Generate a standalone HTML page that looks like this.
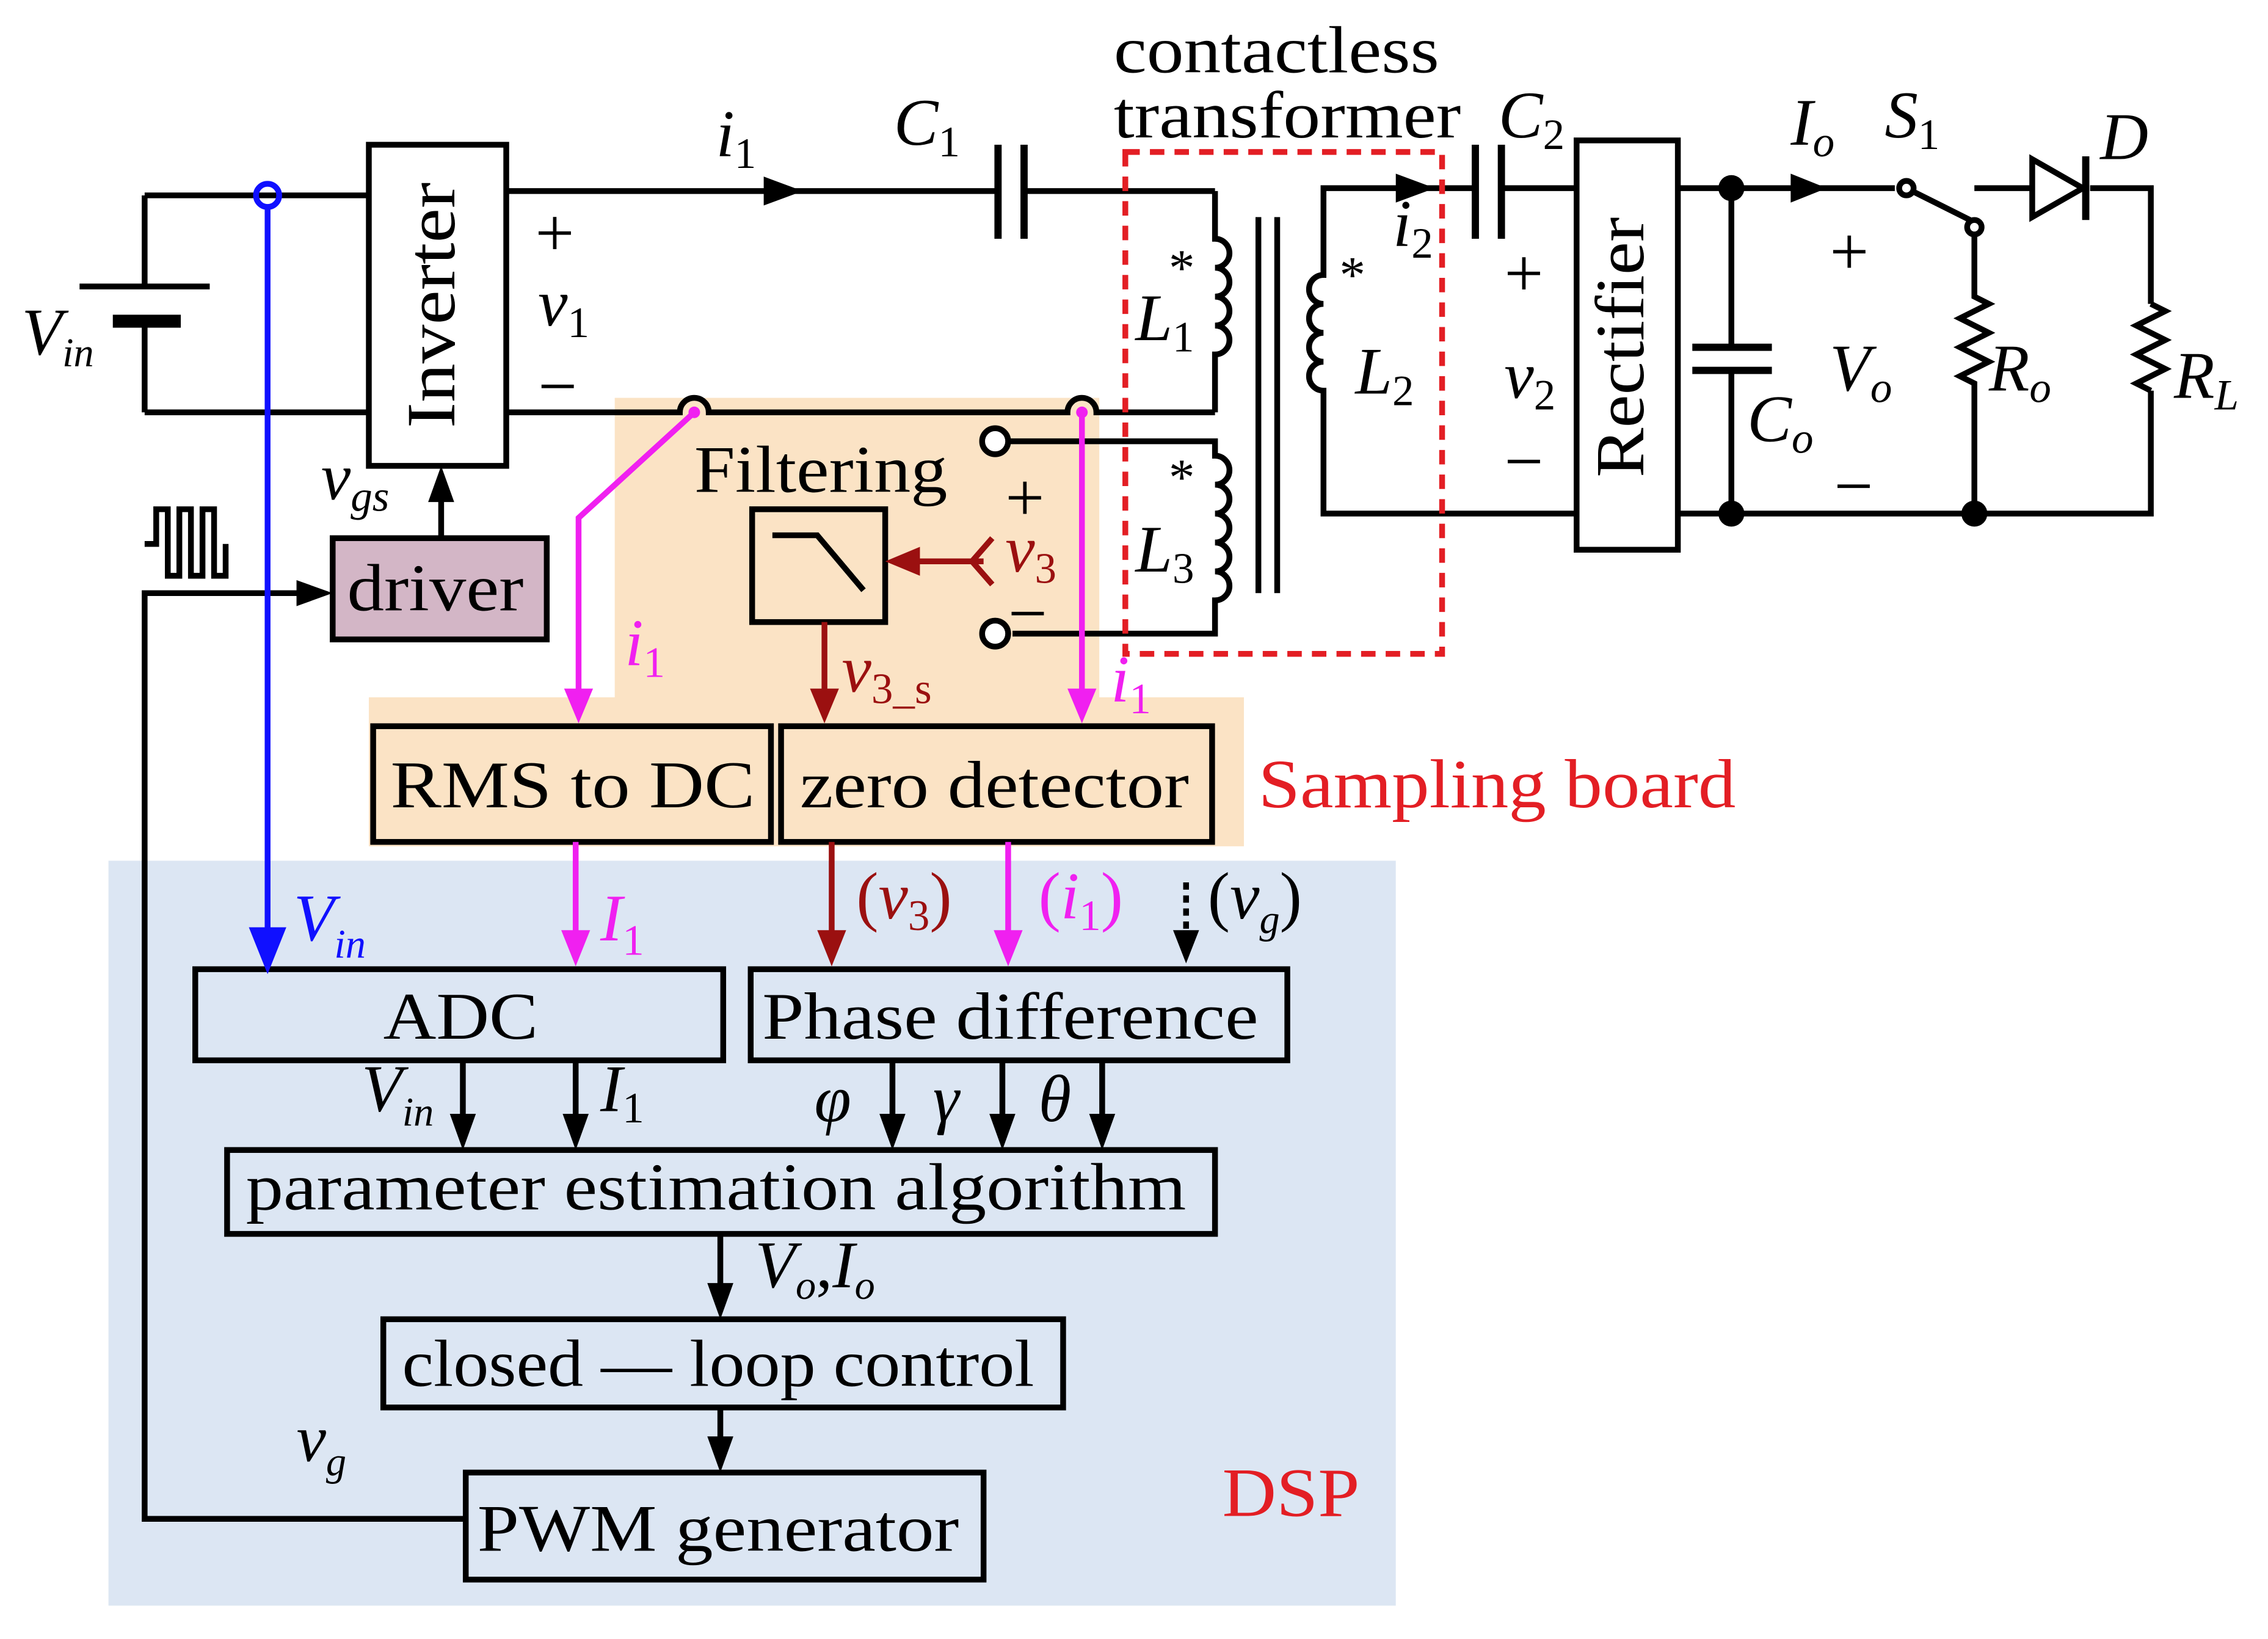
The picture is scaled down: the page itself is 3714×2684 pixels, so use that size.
<!DOCTYPE html>
<html><head><meta charset="utf-8"><style>
html,body{margin:0;padding:0;background:#fff}
svg{display:block}
text{font-family:"Liberation Serif",serif}
</style></head><body>
<svg width="3714" height="2684" viewBox="0 0 1568 1133" xmlns="http://www.w3.org/2000/svg">
<rect width="1568" height="1133" fill="#fff"/>
<rect x="75" y="595" width="890" height="515" fill="#dce6f3"/>
<path d="M425,275 H760 V482 H860 V585 H255 V482 H425 Z" fill="#fbe3c5"/>
<g stroke="#000" stroke-width="4" fill="none">
<path d="M100,135 V198 M100,222 V285"/>
<path d="M55,198 H145" />
<path d="M78,222 H125" stroke-width="9"/>
<path d="M100,135 H255 M100,285 H255"/>
<rect x="255" y="100" width="95" height="222"/>
<path d="M350,132 H690 M708,132 H840"/>
<path d="M690,100 V165 M708,100 V165" stroke-width="5"/>
<path d="M350,285 H470 A10,10 0 0 1 490,285 H738 A10,10 0 0 1 758,285 H840"/>
<path d="M840,132 V165 a10,10 0 0 1 0,20 a10,10 0 0 1 0,20 a10,10 0 0 1 0,20 a10,10 0 0 1 0,20 V285"/>
<path d="M688,305 H840 V315 a10,10 0 0 1 0,20 a10,10 0 0 1 0,20 a10,10 0 0 1 0,20 a10,10 0 0 1 0,20 a10,10 0 0 1 0,20 V438 H700"/>
<circle cx="688" cy="305" r="9" fill="#fff"/>
<circle cx="688" cy="438" r="9" fill="#fff"/>
<path d="M870,150 V410 M883,150 V410"/>
<path d="M1020,130 H915 V190 a10,10 0 0 0 0,20 a10,10 0 0 0 0,20 a10,10 0 0 0 0,20 a10,10 0 0 0 0,20 V355 H1090"/>
<path d="M1038,130 H1090"/>
<path d="M1020,100 V165 M1038,100 V165" stroke-width="5"/>
<rect x="1090" y="97" width="70" height="283"/>
<path d="M1160,130 H1310 M1160,355 H1487 V270 M1487,210 V130 H1445"/>
<path d="M1197,130 V240 M1197,256 V355"/>
<path d="M1170,240 H1225 M1170,256 H1225" stroke-width="5"/>
<path d="M1324,133 L1362,152"/>
<circle cx="1318" cy="130" r="5" fill="#fff"/>
<circle cx="1365" cy="157" r="5" fill="#fff"/>
<path d="M1365,162 V205 l10,5 l-20,10 l20,10 l-20,10 l20,10 l-20,10 l10,5 V355"/>
<path d="M1487,210 l10,5 l-20,10 l20,10 l-20,10 l20,10 l-20,10 l10,5"/>
<path d="M1365,130 H1405"/>
<path d="M1405,110 L1440,130 L1405,150 Z"/>
<path d="M1442,108 V152" stroke-width="5"/>
<rect x="230" y="372" width="148" height="70" fill="#d3b6c6"/>
<path d="M305,372 V335"/>
<path d="M100,376 H108 V352 H116 V398 H124 V352 H132 V398 H140 V352 H148 V398 H156 V376" stroke-width="4"/>
<path d="M322,1050 H100 V410 H215"/>
<rect x="520" y="352" width="92" height="78"/>
<path d="M534,370 H565 L597,408"/>
<rect x="258" y="502" width="275" height="80"/>
<rect x="540" y="502" width="298" height="80"/>
<rect x="135" y="670" width="365" height="63"/>
<rect x="519" y="670" width="371" height="63"/>
<rect x="157" y="795" width="683" height="58"/>
<rect x="265" y="912" width="470" height="61"/>
<rect x="322" y="1018" width="358" height="74"/>
<path d="M320,733 V785 M398,733 V785 M617,733 V785 M693,733 V785 M762,733 V785 M498,853 V902 M498,973 V1008"/>
<path d="M820,610 V655" stroke-dasharray="5,4"/>
</g>
<g fill="#000">
<path d="M311,770 L320,795 L329,770 Z M389,770 L398,795 L407,770 Z M608,770 L617,795 L626,770 Z M684,770 L693,795 L702,770 Z M753,770 L762,795 L771,770 Z M489,887 L498,912 L507,887 Z M489,993 L498,1018 L507,993 Z M811,643 L820,666 L829,643 Z"/>
<path d="M296,347 L305,322 L314,347 Z M205,401 L230,410 L205,419 Z M528,122 L555,132 L528,142 Z M965,120 L992,130 L965,140 Z M1238,120 L1263,130 L1238,140 Z"/>
<circle cx="1197" cy="130" r="9"/><circle cx="1197" cy="355" r="9"/><circle cx="1365" cy="355" r="9"/>
</g>
<rect x="778" y="105" width="219" height="347" fill="none" stroke="#e31e24" stroke-width="4" stroke-dasharray="10,7"/>
<g stroke="#1010ff" stroke-width="4" fill="none">
<path d="M185,143 V650" /><circle cx="185" cy="135" r="8"/>
<path d="M175,643 L185,668 L195,643 Z" fill="#1010ff"/>
</g>
<g stroke="#f020f0" stroke-width="4" fill="#f020f0">
<path d="M480,285 L400,358 V490" fill="none"/><path d="M748,285 V490" fill="none"/>
<path d="M398,582 V655 M697,582 V655" fill="none"/>
<path d="M390,476 L400,500 L410,476Z M738,476 L748,500 L758,476Z M388,643 L398,668 L408,643Z M687,643 L697,668 L707,643Z" stroke="none"/>
<circle cx="480" cy="285" r="4" stroke="none"/><circle cx="748" cy="285" r="4" stroke="none"/>
</g>
<g stroke="#9b1010" stroke-width="4" fill="#9b1010">
<path d="M680,388 H625 M686,372 L672,388 L686,404 M570,430 V490 M575,582 V655" fill="none"/>
<path d="M636,378 L612,388 L636,398Z M560,476 L570,500 L580,476Z M565,643 L575,668 L585,643Z" stroke="none"/>
</g>
<g font-size="46" fill="#000">
<text x="303" y="211" transform="rotate(-90 303 211)" text-anchor="middle" dominant-baseline="middle" font-size="48" textLength="170" lengthAdjust="spacingAndGlyphs">Inverter</text>
<text x="1125" y="240" transform="rotate(-90 1125 240)" text-anchor="middle" dominant-baseline="middle" font-size="48" textLength="180" lengthAdjust="spacingAndGlyphs">Rectifier</text>
<text x="240" y="422" textLength="122" lengthAdjust="spacingAndGlyphs">driver</text>
<text x="770" y="50" textLength="225" lengthAdjust="spacingAndGlyphs">contactless</text>
<text x="770" y="95" textLength="240" lengthAdjust="spacingAndGlyphs">transformer</text>
<text x="480" y="340" textLength="175" lengthAdjust="spacingAndGlyphs">Filtering</text>
<text x="270" y="558" textLength="252" lengthAdjust="spacingAndGlyphs">RMS to DC</text>
<text x="553" y="558" textLength="269" lengthAdjust="spacingAndGlyphs">zero detector</text>
<text x="265" y="718" textLength="107" lengthAdjust="spacingAndGlyphs">ADC</text>
<text x="527" y="718" textLength="343" lengthAdjust="spacingAndGlyphs">Phase difference</text>
<text x="170" y="836" textLength="650" lengthAdjust="spacingAndGlyphs">parameter estimation algorithm</text>
<text x="278" y="958" textLength="437" lengthAdjust="spacingAndGlyphs">closed — loop control</text>
<text x="330" y="1072" textLength="333" lengthAdjust="spacingAndGlyphs">PWM generator</text>
<text x="870" y="558" fill="#e31e24" font-size="48" textLength="330" lengthAdjust="spacingAndGlyphs">Sampling board</text>
<text x="845" y="1048" fill="#e31e24" font-size="48" textLength="95" lengthAdjust="spacingAndGlyphs">DSP</text>
<g font-style="italic">
<text x="15" y="245">V<tspan font-size="28" dy="8">in</tspan></text>
<text x="495" y="108">i<tspan font-size="30" dy="8" font-style="normal">1</tspan></text>
<text x="618" y="100">C<tspan font-size="30" dy="8" font-style="normal">1</tspan></text>
<text x="1036" y="95">C<tspan font-size="30" dy="8" font-style="normal">2</tspan></text>
<text x="372" y="225">v<tspan font-size="30" dy="8" font-style="normal">1</tspan></text>
<text x="785" y="235">L<tspan font-size="30" dy="8" font-style="normal">1</tspan></text>
<text x="937" y="272">L<tspan font-size="30" dy="8" font-style="normal">2</tspan></text>
<text x="785" y="395">L<tspan font-size="30" dy="8" font-style="normal">3</tspan></text>
<text x="963" y="170">i<tspan font-size="30" dy="8" font-style="normal">2</tspan></text>
<text x="1040" y="275">v<tspan font-size="30" dy="8" font-style="normal">2</tspan></text>
<text x="1238" y="100">I<tspan font-size="30" dy="8">o</tspan></text>
<text x="1303" y="95">S<tspan font-size="30" dy="8" font-style="normal">1</tspan></text>
<text x="1452" y="110">D</text>
<text x="1265" y="270">V<tspan font-size="30" dy="8">o</tspan></text>
<text x="1208" y="305">C<tspan font-size="30" dy="8">o</tspan></text>
<text x="1375" y="270">R<tspan font-size="30" dy="8">o</tspan></text>
<text x="1503" y="275">R<tspan font-size="30" dy="8">L</tspan></text>
<text x="222" y="345">v<tspan font-size="30" dy="8">gs</tspan></text>
<text x="695" y="395" fill="#9b1010">v<tspan font-size="30" dy="8" font-style="normal">3</tspan></text>
<text x="582" y="478" fill="#9b1010">v<tspan font-size="30" dy="8" font-style="normal">3_s</tspan></text>
<text x="432" y="460" fill="#f020f0">i<tspan font-size="30" dy="8" font-style="normal">1</tspan></text>
<text x="768" y="485" fill="#f020f0">i<tspan font-size="30" dy="8" font-style="normal">1</tspan></text>
<text x="203" y="650" fill="#1010ff">V<tspan font-size="28" dy="12">in</tspan></text>
<text x="415" y="650" fill="#f020f0">I<tspan font-size="30" dy="10" font-style="normal">1</tspan></text>
<text x="592" y="635" fill="#9b1010"><tspan font-style="normal">(</tspan>v<tspan font-size="30" dy="8" font-style="normal">3</tspan><tspan dy="-8" font-style="normal">)</tspan></text>
<text x="718" y="635" fill="#f020f0"><tspan font-style="normal">(</tspan>i<tspan font-size="30" dy="8" font-style="normal">1</tspan><tspan dy="-8" font-style="normal">)</tspan></text>
<text x="835" y="635"><tspan font-style="normal">(</tspan>v<tspan font-size="28" dy="10">g</tspan><tspan dy="-10" font-style="normal">)</tspan></text>
<text x="250" y="768">V<tspan font-size="28" dy="10">in</tspan></text>
<text x="415" y="768">I<tspan font-size="30" dy="8" font-style="normal">1</tspan></text>
<text x="563" y="775">φ</text>
<text x="645" y="775">γ</text>
<text x="718" y="775">θ</text>
<text x="522" y="890">V<tspan font-size="28" dy="8">o</tspan><tspan dy="-8" font-style="normal">,</tspan>I<tspan font-size="28" dy="8">o</tspan></text>
<text x="205" y="1010">v<tspan font-size="28" dy="10">g</tspan></text>
</g>
<g font-size="48">
<text x="370" y="177">+</text><text x="372" y="283">−</text>
<text x="1040" y="205">+</text><text x="1040" y="335">−</text>
<text x="1265" y="190">+</text><text x="1268" y="352">−</text>
<text x="695" y="360">+</text><text x="697" y="440">−</text>
</g>
<g font-size="36"><text x="808" y="197">*</text><text x="926" y="202">*</text><text x="808" y="342">*</text></g>
</g>
</svg>
</body></html>
